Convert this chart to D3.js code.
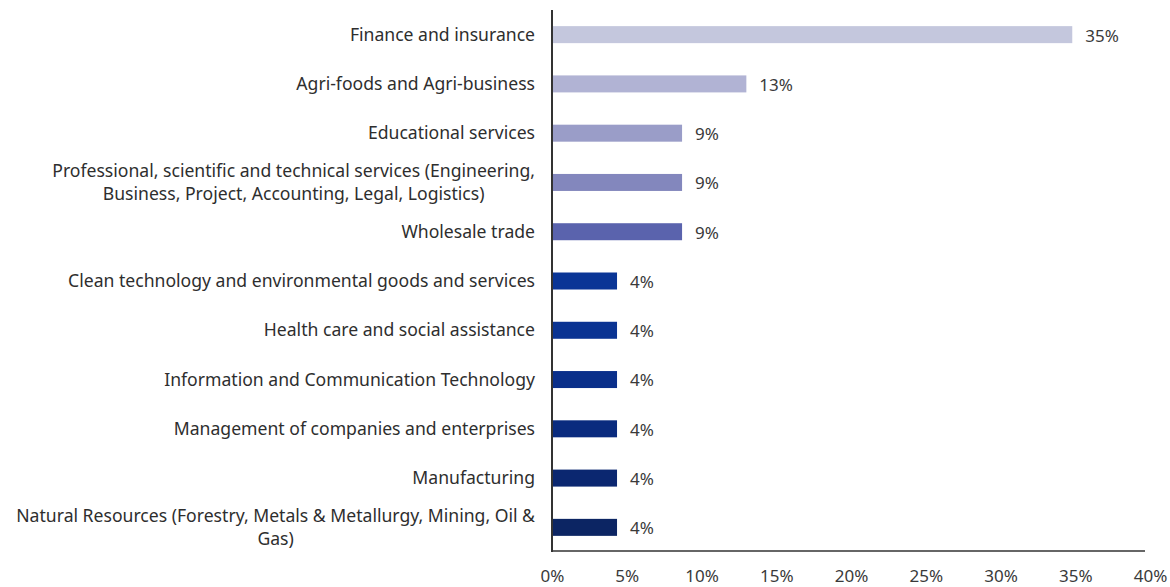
<!DOCTYPE html>
<html>
<head>
<meta charset="utf-8">
<script src="https://cdn.jsdelivr.net/npm/d3@7"></script>
<style>
  html, body { margin: 0; padding: 0; background: #fff; }
  svg { display: block; font-family: "Noto Sans", "Open Sans", sans-serif; }
</style>
</head>
<body>
<svg id="chart" width="1170" height="587"></svg>
<script>
// Share of respondents by sector (23 responses in total)
const sectors = [
  ["Finance and insurance"],
  ["Agri-foods and Agri-business"],
  ["Educational services"],
  ["Professional, scientific and technical services (Engineering,", "Business, Project, Accounting, Legal, Logistics)"],
  ["Wholesale trade"],
  ["Clean technology and environmental goods and services"],
  ["Health care and social assistance"],
  ["Information and Communication Technology"],
  ["Management of companies and enterprises"],
  ["Manufacturing"],
  ["Natural Resources (Forestry, Metals & Metallurgy, Mining, Oil &", "Gas)"]
];
const shares = [0.348, 0.130, 0.087, 0.087, 0.087, 0.0435, 0.0435, 0.0435, 0.0435, 0.0435, 0.0435];
const barColors = ["#c4c7dd", "#b1b3d4", "#9a9dc8", "#8387bd", "#5a63ad",
                   "#0a3596", "#0a3392", "#0a2f8a", "#0a2b7e", "#0b2770", "#0c2563"];
const xTicks = [0, 0.05, 0.10, 0.15, 0.20, 0.25, 0.30, 0.35, 0.40];

const svg = d3.select("#chart");
const mLeft = 552, mRight = 1150, mTop = 10, mBottom = 552;

const x = d3.scaleLinear().domain([0, 0.40]).range([mLeft, mRight]);
const y = d3.scaleBand()
  .domain(d3.range(sectors.length))
  .range([mTop, mBottom])
  .paddingInner(0.655)
  .paddingOuter(0.3275);

const pct = d3.format(".0%");

// bars
svg.append("g").selectAll("rect")
  .data(shares)
  .join("rect")
  .attr("x", x(0))
  .attr("y", (d, i) => y(i))
  .attr("width", d => x(d) - x(0))
  .attr("height", y.bandwidth())
  .attr("fill", (d, i) => barColors[i]);

// value labels
svg.append("g").selectAll("text")
  .data(shares)
  .join("text")
  .attr("x", d => x(d) + 13)
  .attr("y", (d, i) => y(i) + y.bandwidth() / 2 + 1)
  .attr("dy", "0.35em")
  .attr("font-size", 17)
  .attr("fill", "#3a3a3a")
  .text(d => pct(d));

// category labels, multi-line ones centred on each other and flush to the right edge
const labelRight = 535, lineH = 23;
const catG = svg.append("g").attr("font-size", 17.6).attr("fill", "#2e2e2e");
sectors.forEach((lines, i) => {
  const cy = y(i) + y.bandwidth() / 2;
  const t = catG.append("text").attr("text-anchor", lines.length > 1 ? "middle" : "end");
  const spans = lines.map((ln, k) => t.append("tspan")
    .attr("y", cy + (k - (lines.length - 1) / 2) * lineH)
    .attr("dy", "0.35em")
    .text(ln));
  if (lines.length > 1) {
    const w = d3.max(spans, s => s.node().getComputedTextLength());
    spans.forEach(s => s.attr("x", labelRight - w / 2));
  } else {
    spans.forEach(s => s.attr("x", labelRight));
  }
});

// x axis
const xAxis = d3.axisBottom(x).tickValues(xTicks).tickFormat(pct).tickSize(0).tickPadding(19);
const gx = svg.append("g").attr("transform", `translate(0,${mBottom - 1})`).call(xAxis);
gx.select(".domain").attr("stroke", "#333").attr("stroke-width", 1.5).attr("d", `M${mLeft},0H${mRight - 5}`);
gx.selectAll("text").attr("font-size", 17).attr("fill", "#3a3a3a").attr("font-family", "Noto Sans, Open Sans, sans-serif");

// y axis line
svg.append("line")
  .attr("x1", mLeft).attr("x2", mLeft)
  .attr("y1", mTop).attr("y2", mBottom)
  .attr("stroke", "#333").attr("stroke-width", 2);
</script>
</body>
</html>
